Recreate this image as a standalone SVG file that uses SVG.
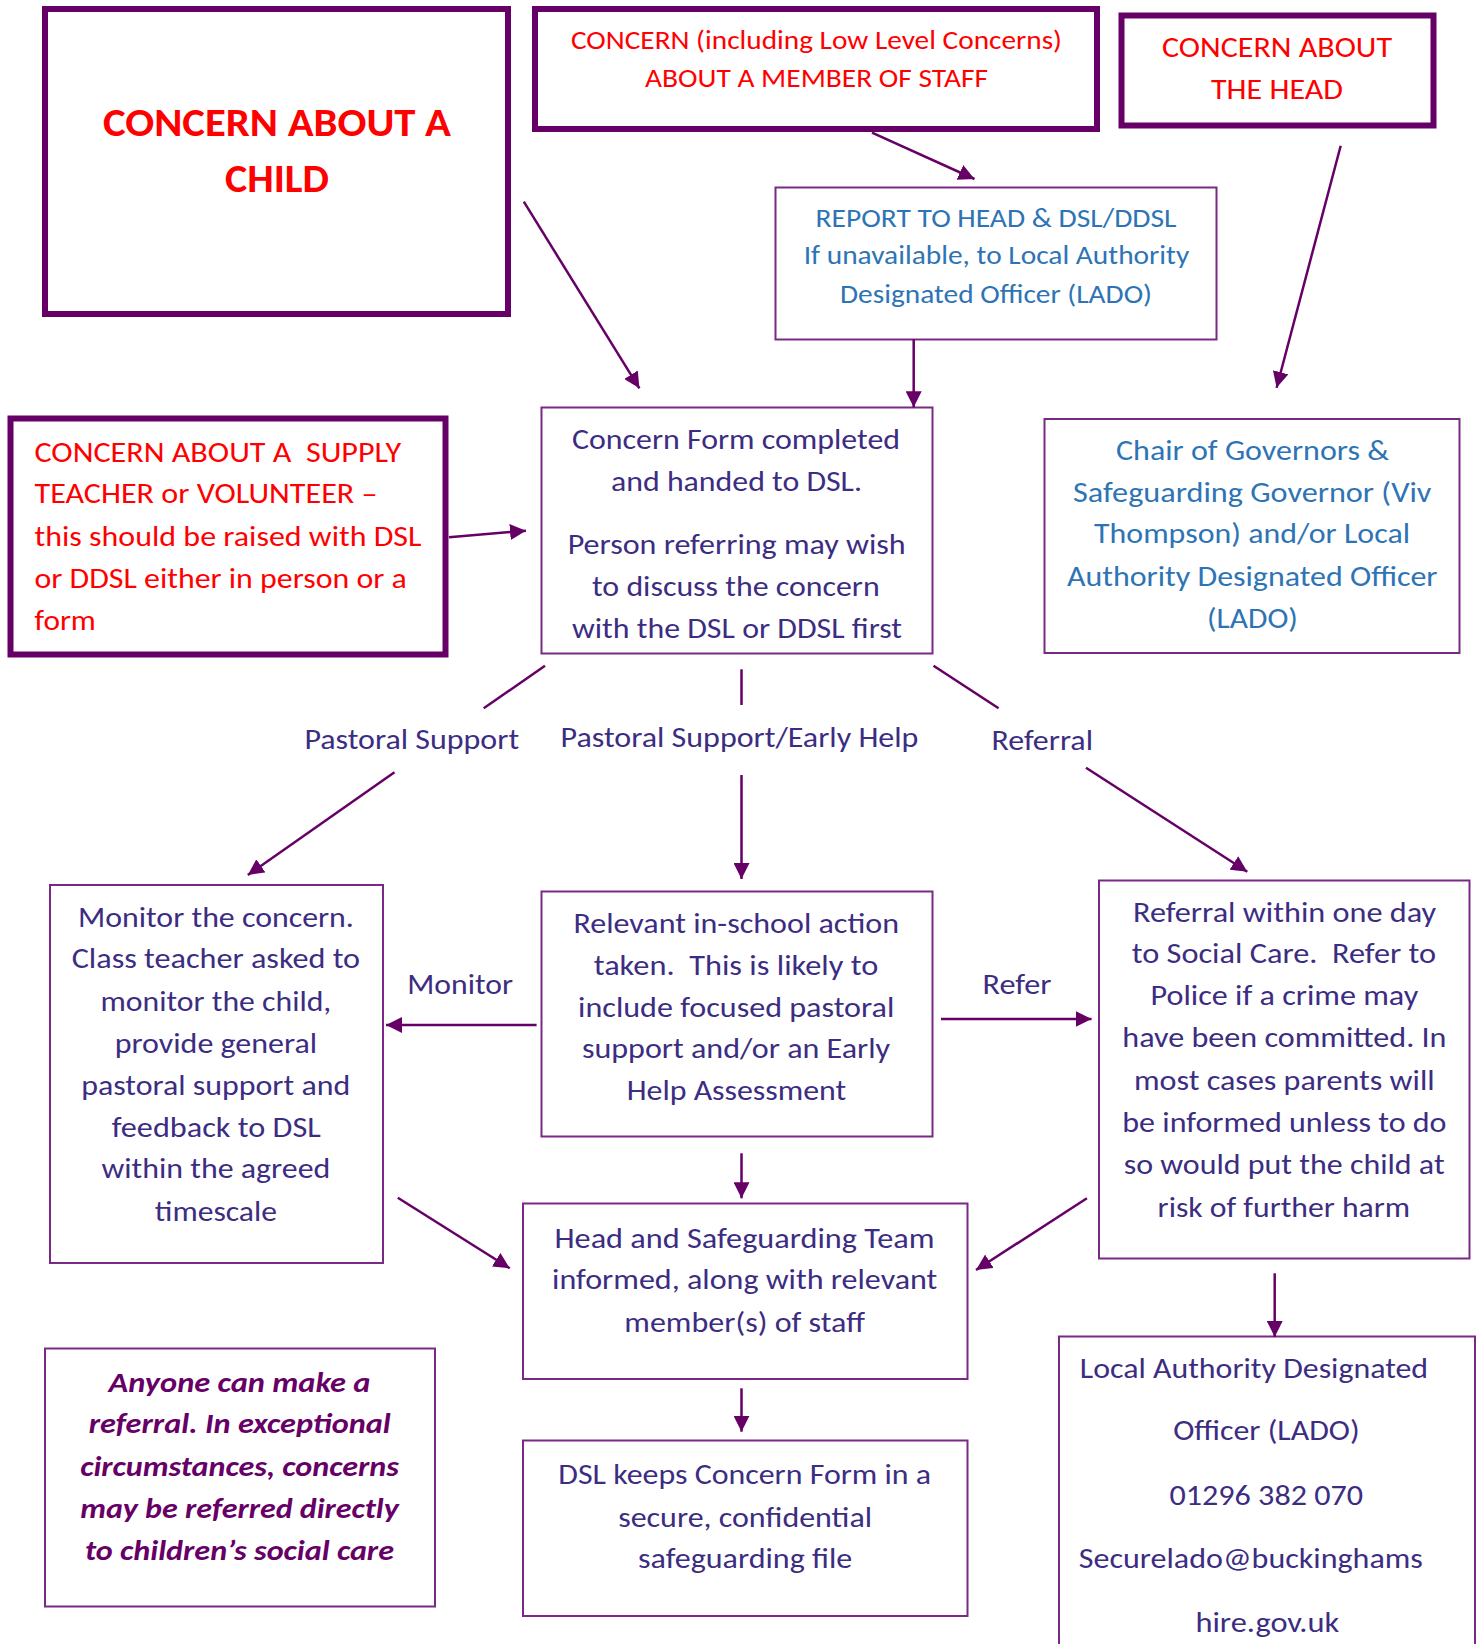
<svg xmlns="http://www.w3.org/2000/svg" width="1479" height="1644" viewBox="0 0 1479 1644">
<style>
text{font-family:Carlito,Calibri,Lato,"Noto Sans",sans-serif;white-space:pre}
.thick{fill:#fff;stroke:#660066;stroke-width:6}
.thin{fill:#fff;stroke:#7a2a86;stroke-width:2}
.red{fill:#ff0000;font-size:27.5px}
.redb{fill:#ff0000;font-size:40px;font-weight:bold}
.blue{fill:#2e74b5;font-size:27.5px}
.navy{fill:#3c2d82;font-size:29px}
.lbl{font-size:28px}
.note{fill:#660066;font-size:29px;font-weight:bold;font-style:italic}
.conn line{stroke:#660066;stroke-width:2.5}
.arr{marker-end:url(#ah)}
</style>
<defs>
<marker id="ah" markerUnits="userSpaceOnUse" markerWidth="17" markerHeight="16" refX="16" refY="8" orient="auto">
<path d="M0,0 L16,8 L0,16 z" fill="#660066"/>
</marker>
</defs>
<rect width="1479" height="1644" fill="#fff"/>

<g id="child">
<rect class="thick" x="45" y="9" width="463" height="305"/>
<text class="redb" x="103" y="136" textLength="348" lengthAdjust="spacingAndGlyphs">CONCERN ABOUT A</text>
<text class="redb" x="225" y="191.5" textLength="104" lengthAdjust="spacingAndGlyphs">CHILD</text>
</g>

<g id="staff">
<rect class="thick" x="535" y="9" width="562" height="120"/>
<text class="red" x="571" y="49.3" textLength="491" lengthAdjust="spacingAndGlyphs">CONCERN (including Low Level Concerns)</text>
<text class="red" x="645" y="87.3" textLength="343" lengthAdjust="spacingAndGlyphs">ABOUT A MEMBER OF STAFF</text>
</g>

<g id="head">
<rect class="thick" x="1121.5" y="15.5" width="312" height="110"/>
<text class="red" x="1162" y="57" textLength="230" lengthAdjust="spacingAndGlyphs" style="font-size:29px">CONCERN ABOUT</text>
<text class="red" x="1211" y="99" textLength="132" lengthAdjust="spacingAndGlyphs" style="font-size:29px">THE HEAD</text>
</g>

<g id="report">
<rect class="thin" x="775.5" y="187.5" width="441" height="152"/>
<text class="blue" x="815.5" y="226.7" textLength="361" lengthAdjust="spacingAndGlyphs">REPORT TO HEAD &amp; DSL/DDSL</text>
<text class="blue" x="803.7" y="263.5" textLength="385.6" lengthAdjust="spacingAndGlyphs">If unavailable, to Local Authority</text>
<text class="blue" x="840" y="303.3" textLength="312" lengthAdjust="spacingAndGlyphs">Designated Officer (LADO)</text>
</g>

<g id="form">
<rect class="thin" x="541.5" y="407.5" width="391" height="246"/>
<text class="navy" x="572" y="449.3" textLength="328" lengthAdjust="spacingAndGlyphs">Concern Form completed</text>
<text class="navy" x="611" y="490.7" textLength="251" lengthAdjust="spacingAndGlyphs">and handed to DSL.</text>
<text class="navy" x="567.7" y="554" textLength="338" lengthAdjust="spacingAndGlyphs">Person referring may wish</text>
<text class="navy" x="592" y="596" textLength="287.7" lengthAdjust="spacingAndGlyphs">to discuss the concern</text>
<text class="navy" x="572" y="638.3" textLength="330" lengthAdjust="spacingAndGlyphs">with the DSL or DDSL first</text>
</g>

<g id="governors">
<rect class="thin" x="1044.5" y="419" width="415" height="234"/>
<text class="blue" x="1116" y="460" textLength="273" lengthAdjust="spacingAndGlyphs" style="font-size:28.5px">Chair of Governors &amp;</text>
<text class="blue" x="1073" y="501.7" textLength="358.4" lengthAdjust="spacingAndGlyphs" style="font-size:28.5px">Safeguarding Governor (Viv</text>
<text class="blue" x="1094" y="543.3" textLength="316" lengthAdjust="spacingAndGlyphs" style="font-size:28.5px">Thompson) and/or Local</text>
<text class="blue" x="1067" y="585.7" textLength="370.5" lengthAdjust="spacingAndGlyphs" style="font-size:28.5px">Authority Designated Officer</text>
<text class="blue" x="1207" y="627.7" textLength="90.8" lengthAdjust="spacingAndGlyphs" style="font-size:28.5px">(LADO)</text>
</g>

<g id="supply">
<rect class="thick" x="10.5" y="418.5" width="435" height="236"/>
<text class="red" x="34.5" y="461.7" textLength="366.6" lengthAdjust="spacingAndGlyphs" style="font-size:28.5px">CONCERN ABOUT A  SUPPLY</text>
<text class="red" x="34.5" y="503.3" textLength="343" lengthAdjust="spacingAndGlyphs" style="font-size:28.5px">TEACHER or VOLUNTEER –</text>
<text class="red" x="34.5" y="545.7" textLength="387" lengthAdjust="spacingAndGlyphs" style="font-size:28.5px">this should be raised with DSL</text>
<text class="red" x="34.5" y="588.3" textLength="372.3" lengthAdjust="spacingAndGlyphs" style="font-size:28.5px">or DDSL either in person or a</text>
<text class="red" x="34.5" y="630" textLength="61.3" lengthAdjust="spacingAndGlyphs" style="font-size:28.5px">form</text>
</g>

<g id="label-pastoral">
<text class="navy lbl" x="304.4" y="749.3" textLength="214.7" lengthAdjust="spacingAndGlyphs">Pastoral Support</text>
</g>
<g id="label-early-help">
<text class="navy lbl" x="560.6" y="746.7" textLength="357.8" lengthAdjust="spacingAndGlyphs">Pastoral Support/Early Help</text>
</g>
<g id="label-referral">
<text class="navy lbl" x="991.5" y="750" textLength="101.5" lengthAdjust="spacingAndGlyphs">Referral</text>
</g>

<g id="monitor-box">
<rect class="thin" x="50" y="885" width="333" height="378"/>
<text class="navy" x="77.9" y="926.7" textLength="276" lengthAdjust="spacingAndGlyphs">Monitor the concern.</text>
<text class="navy" x="71.7" y="968.3" textLength="288.4" lengthAdjust="spacingAndGlyphs">Class teacher asked to</text>
<text class="navy" x="100.5" y="1010.7" textLength="230.8" lengthAdjust="spacingAndGlyphs">monitor the child,</text>
<text class="navy" x="114.7" y="1052.7" textLength="202.4" lengthAdjust="spacingAndGlyphs">provide general</text>
<text class="navy" x="81.2" y="1095" textLength="269" lengthAdjust="spacingAndGlyphs">pastoral support and</text>
<text class="navy" x="111.8" y="1136.7" textLength="209" lengthAdjust="spacingAndGlyphs">feedback to DSL</text>
<text class="navy" x="101.5" y="1178.3" textLength="228.8" lengthAdjust="spacingAndGlyphs">within the agreed</text>
<text class="navy" x="154.8" y="1221" textLength="122.2" lengthAdjust="spacingAndGlyphs">timescale</text>
</g>

<g id="label-monitor">
<text class="navy lbl" x="407.3" y="994" textLength="105.7" lengthAdjust="spacingAndGlyphs">Monitor</text>
</g>

<g id="action">
<rect class="thin" x="541.5" y="891.5" width="391" height="245"/>
<text class="navy" x="573.4" y="933.3" textLength="325.6" lengthAdjust="spacingAndGlyphs">Relevant in-school action</text>
<text class="navy" x="593.7" y="975" textLength="284.6" lengthAdjust="spacingAndGlyphs">taken.  This is likely to</text>
<text class="navy" x="578.1" y="1016.7" textLength="316.2" lengthAdjust="spacingAndGlyphs">include focused pastoral</text>
<text class="navy" x="581.9" y="1058.3" textLength="308.2" lengthAdjust="spacingAndGlyphs">support and/or an Early</text>
<text class="navy" x="626.7" y="1100" textLength="219.5" lengthAdjust="spacingAndGlyphs">Help Assessment</text>
</g>

<g id="label-refer">
<text class="navy lbl" x="982.6" y="994" textLength="68.9" lengthAdjust="spacingAndGlyphs">Refer</text>
</g>

<g id="social-care">
<rect class="thin" x="1099" y="880.5" width="370.5" height="378"/>
<text class="navy" x="1133.1" y="921.7" textLength="303" lengthAdjust="spacingAndGlyphs">Referral within one day</text>
<text class="navy" x="1131.7" y="963.3" textLength="304.4" lengthAdjust="spacingAndGlyphs">to Social Care.  Refer to</text>
<text class="navy" x="1150.6" y="1005" textLength="267.6" lengthAdjust="spacingAndGlyphs">Police if a crime may</text>
<text class="navy" x="1122.3" y="1047.3" textLength="324.2" lengthAdjust="spacingAndGlyphs">have been committed. In</text>
<text class="navy" x="1134" y="1090" textLength="300.6" lengthAdjust="spacingAndGlyphs">most cases parents will</text>
<text class="navy" x="1122.3" y="1132.3" textLength="324.2" lengthAdjust="spacingAndGlyphs">be informed unless to do</text>
<text class="navy" x="1123.7" y="1174" textLength="320.9" lengthAdjust="spacingAndGlyphs">so would put the child at</text>
<text class="navy" x="1157.6" y="1216.7" textLength="252.5" lengthAdjust="spacingAndGlyphs">risk of further harm</text>
</g>

<g id="team">
<rect class="thin" x="523" y="1203.5" width="444.5" height="175.5"/>
<text class="navy" x="554.5" y="1248.3" textLength="379.9" lengthAdjust="spacingAndGlyphs">Head and Safeguarding Team</text>
<text class="navy" x="552.1" y="1289.3" textLength="385.2" lengthAdjust="spacingAndGlyphs">informed, along with relevant</text>
<text class="navy" x="624.3" y="1331.7" textLength="240.7" lengthAdjust="spacingAndGlyphs">member(s) of staff</text>
</g>

<g id="file">
<rect class="thin" x="523" y="1440.5" width="444.5" height="175.5"/>
<text class="navy" x="558.3" y="1484" textLength="372.8" lengthAdjust="spacingAndGlyphs">DSL keeps Concern Form in a</text>
<text class="navy" x="618.2" y="1526.7" textLength="253.9" lengthAdjust="spacingAndGlyphs">secure, confidential</text>
<text class="navy" x="638" y="1568.3" textLength="214.3" lengthAdjust="spacingAndGlyphs">safeguarding file</text>
</g>

<g id="anyone">
<rect class="thin" x="45" y="1348.5" width="390" height="258"/>
<text class="note" x="108.5" y="1391.7" textLength="262" lengthAdjust="spacingAndGlyphs">Anyone can make a</text>
<text class="note" x="88.7" y="1433.3" textLength="302" lengthAdjust="spacingAndGlyphs">referral. In exceptional</text>
<text class="note" x="80.2" y="1475.7" textLength="318.6" lengthAdjust="spacingAndGlyphs">circumstances, concerns</text>
<text class="note" x="80.2" y="1518.3" textLength="318.6" lengthAdjust="spacingAndGlyphs">may be referred directly</text>
<text class="note" x="85" y="1560" textLength="309" lengthAdjust="spacingAndGlyphs">to children’s social care</text>
</g>

<g id="lado">
<rect class="thin" x="1059" y="1336.5" width="416" height="340"/>
<text class="navy" x="1079.8" y="1378.3" textLength="348.3" lengthAdjust="spacingAndGlyphs">Local Authority Designated</text>
<text class="navy" x="1173.2" y="1440" textLength="186.4" lengthAdjust="spacingAndGlyphs">Officer (LADO)</text>
<text class="navy" x="1169.5" y="1505" textLength="193.5" lengthAdjust="spacingAndGlyphs">01296 382 070</text>
<text class="navy" x="1078.8" y="1568.3" textLength="344.1" lengthAdjust="spacingAndGlyphs">Securelado@buckinghams</text>
<text class="navy" x="1195.4" y="1631.7" textLength="143.9" lengthAdjust="spacingAndGlyphs">hire.gov.uk</text>
</g>

<g id="connectors" class="conn">
<line class="arr" x1="523.8" y1="201.7" x2="639.4" y2="388.3"/>
<line class="arr" x1="872" y1="132.7" x2="974.5" y2="179"/>
<line class="arr" x1="913.7" y1="339.3" x2="913.7" y2="407.3"/>
<line class="arr" x1="1340.7" y1="145.7" x2="1276.6" y2="387.7"/>
<line class="arr" x1="449" y1="537.3" x2="526" y2="530.7"/>
<line x1="545" y1="665.7" x2="483.7" y2="708.3"/>
<line x1="741.5" y1="669.3" x2="741.5" y2="705"/>
<line x1="933.5" y1="665.7" x2="998.6" y2="708.3"/>
<line class="arr" x1="394.5" y1="772.3" x2="247.8" y2="875"/>
<line class="arr" x1="741.5" y1="775" x2="741.5" y2="879"/>
<line class="arr" x1="1086" y1="767.7" x2="1247.3" y2="871.7"/>
<line class="arr" x1="536.6" y1="1025" x2="386" y2="1025"/>
<line class="arr" x1="941" y1="1019" x2="1091.6" y2="1019"/>
<line class="arr" x1="741.5" y1="1153.3" x2="741.5" y2="1198.3"/>
<line class="arr" x1="397.8" y1="1197.7" x2="509.7" y2="1268.3"/>
<line class="arr" x1="1086.9" y1="1198.3" x2="976" y2="1270"/>
<line class="arr" x1="741.5" y1="1388.3" x2="741.5" y2="1431.7"/>
<line class="arr" x1="1274.7" y1="1273.3" x2="1274.7" y2="1337"/>
</g>
</svg>
